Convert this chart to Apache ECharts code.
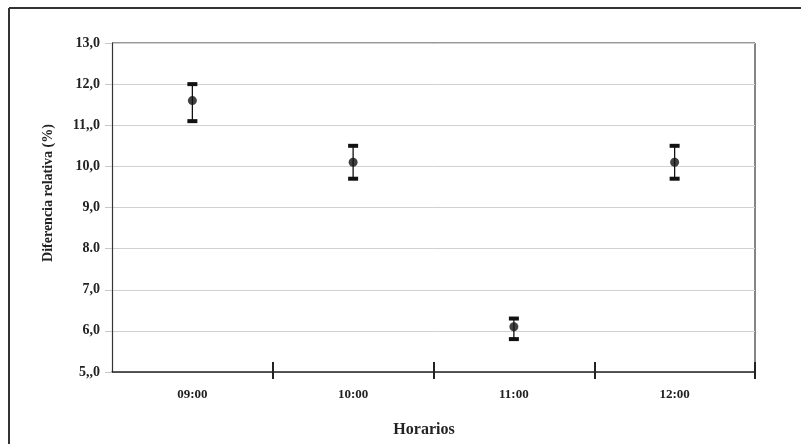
<!DOCTYPE html>
<html>
<head>
<meta charset="utf-8">
<script src="https://cdn.jsdelivr.net/npm/echarts@6/dist/echarts.min.js"></script>
<style>
html,body{margin:0;padding:0;background:#fff;}
#c{width:801px;height:444px;}
</style>
</head>
<body>
<div id="c"></div>
<script>
var categories = ['09:00', '10:00', '11:00', '12:00'];
var means = [11.6, 10.1, 6.1, 10.1];
var lows = [11.1, 9.7, 5.8, 9.7];
var highs = [12.0, 10.5, 6.3, 10.5];
var yTickLabels = {5: '5,,0', 6: '6,0', 7: '7,0', 8: '8.0', 9: '9,0', 10: '10,0', 11: '11,,0', 12: '12,0', 13: '13,0'};
var xAxisTitle = 'Horarios';
var yAxisTitle = 'Diferencia relativa (%)';

var FONT = '"Liberation Serif", "Times New Roman", serif';
var chart = echarts.init(document.getElementById('c'), null, {renderer: 'canvas'});

var errData = categories.map(function (c, i) { return [i, lows[i], highs[i]]; });
var ptData = categories.map(function (c, i) { return [i, means[i]]; });

chart.setOption({
  animation: false,
  backgroundColor: '#ffffff',
  grid: {left: 112, top: 43, right: 46, bottom: 72, containLabel: false},
  xAxis: [{
    type: 'category',
    data: categories,
    boundaryGap: true,
    axisLine: {show: true, lineStyle: {color: '#222', width: 1.5}},
    axisTick: {show: true, length: 7, inside: false, interval: function (idx) { return idx !== 0; }, lineStyle: {color: '#222', width: 2}},
    axisLabel: {fontFamily: FONT, fontWeight: 'bold', fontSize: 13, color: '#222', margin: 16},
    splitLine: {show: false}
  }, {
    type: 'category',
    data: categories,
    position: 'bottom',
    boundaryGap: true,
    axisLine: {show: false},
    axisTick: {show: true, length: 10, inside: true, interval: function (idx) { return idx !== 0; }, lineStyle: {color: '#222', width: 2}},
    axisLabel: {show: false},
    splitLine: {show: false}
  }],
  yAxis: {
    type: 'value',
    min: 5, max: 13, interval: 1,
    axisLine: {show: true, lineStyle: {color: '#333', width: 1.2}},
    axisTick: {show: true, length: 7, lineStyle: {color: '#c8c8c8'}},
    axisLabel: {
      fontFamily: FONT, fontWeight: 'bold', fontSize: 14, color: '#222', margin: 12,
      formatter: function (v) { return yTickLabels[v] !== undefined ? yTickLabels[v] : String(v); }
    },
    splitLine: {show: true, lineStyle: {color: '#d0d0d0', width: 1}}
  },
  graphic: [
    {type: 'line', shape: {x1: 9, y1: 8, x2: 801, y2: 8}, style: {stroke: '#333', lineWidth: 2}, silent: true},
    {type: 'line', shape: {x1: 9, y1: 8, x2: 9, y2: 444}, style: {stroke: '#333', lineWidth: 2}, silent: true},
    {type: 'line', shape: {x1: 112, y1: 43, x2: 755, y2: 43}, style: {stroke: '#333', lineWidth: 1.2}, silent: true},
    {type: 'line', shape: {x1: 755, y1: 43, x2: 755, y2: 372}, style: {stroke: '#333', lineWidth: 1.2}, silent: true},
    {type: 'text', x: 424, y: 430,
      style: {text: xAxisTitle, font: 'bold 16px ' + FONT, fill: '#222', align: 'center', verticalAlign: 'middle'}},
    {type: 'text', x: 48, y: 193, rotation: Math.PI / 2,
      style: {text: yAxisTitle, font: 'bold 14px ' + FONT, fill: '#222', align: 'center', verticalAlign: 'middle'}}
  ],
  series: [{
    type: 'custom',
    xAxisIndex: 0,
    data: errData,
    renderItem: function (params, api) {
      var lo = api.coord([api.value(0), api.value(1)]);
      var hi = api.coord([api.value(0), api.value(2)]);
      var x = lo[0];
      var cw = 5;
      return {
        type: 'group',
        children: [
          {type: 'line', shape: {x1: x, y1: hi[1], x2: x, y2: lo[1]}, style: {stroke: '#111', lineWidth: 1.3}},
          {type: 'rect', shape: {x: x - cw, y: hi[1] - 2, width: cw * 2, height: 4}, style: {fill: '#111'}},
          {type: 'rect', shape: {x: x - cw, y: lo[1] - 2, width: cw * 2, height: 4}, style: {fill: '#111'}}
        ]
      };
    },
    z: 3
  }, {
    type: 'scatter',
    xAxisIndex: 0,
    data: ptData,
    symbol: 'circle',
    symbolSize: 9,
    itemStyle: {color: '#111'},
    z: 4
  }]
});
</script>
</body>
</html>
